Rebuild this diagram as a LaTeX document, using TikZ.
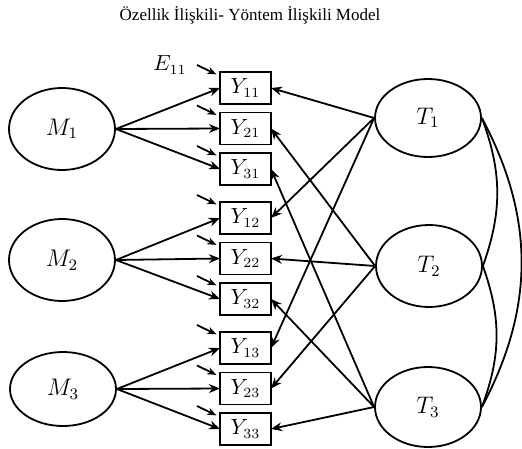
\documentclass[tikz,border=0pt]{standalone}
\usepackage{fontspec}
\setmainfont{Liberation Serif}
\usetikzlibrary{arrows.meta,positioning,shapes.geometric,calc}

\begin{document}
\begin{tikzpicture}[x=0.5pt, y=-0.5pt,
  font=\fontsize{12}{14}\selectfont,
  latent/.style={draw, ellipse, minimum width=53pt, minimum height=41pt,
                 inner sep=0pt, line width=0.9pt},
  obs/.style={draw, rectangle, minimum width=25.5pt, minimum height=16pt, outer sep=0pt,
              inner sep=0pt, line width=0.9pt, font=\fontsize{10.5}{12}\selectfont},
  arr/.style={-{Stealth[length=5.5pt, width=4.4pt]}, line width=0.9pt},
  err/.style={-{Stealth[length=4.6pt, width=3.6pt]}, line width=0.9pt, shorten >=2pt},
  corr/.style={line width=0.9pt}]
\useasboundingbox (0,0) rectangle (522,448);
\node[font=\fontsize{8.5}{10}\selectfont] (title) at (250,15)
  {Özellik İlişkili- Yöntem İlişkili Model};
% method factors (left) and trait factors (right)
\node[latent] (M1) at (62,129) {$M_1$};
\node[latent] (M2) at (62,260) {$M_2$};
\node[latent, minimum height=37pt] (M3) at (63,389) {$M_3$};
\node[latent, minimum height=39pt] (T1) at (428,118) {$T_1$};
\node[latent] (T2) at (429,266) {$T_2$};
\node[latent, minimum height=40pt] (T3) at (428,407) {$T_3$};
% observed measures
\node[obs] (Y11) at (245.5,88) {$Y_{11}$};
\node[obs, below=4.25pt of Y11] (Y21) {$Y_{21}$};
\node[obs, below=4.25pt of Y21] (Y31) {$Y_{31}$};
\node[obs, below=8.5pt of Y31] (Y12) {$Y_{12}$};
\node[obs, below=4.25pt of Y12] (Y22) {$Y_{22}$};
\node[obs, below=4.25pt of Y22] (Y32) {$Y_{32}$};
\node[obs, below=8.5pt of Y32] (Y13) {$Y_{13}$};
\node[obs, below=4.25pt of Y13] (Y23) {$Y_{23}$};
\node[obs, below=4.25pt of Y23] (Y33) {$Y_{33}$};
% error terms
\coordinate (E11) at ($(Y11.north west)+(-23,-7)$); \coordinate (E21) at ($(Y21.north west)+(-23,-7)$);
\coordinate (E31) at ($(Y31.north west)+(-23,-7)$); \coordinate (E12) at ($(Y12.north west)+(-23,-7)$);
\coordinate (E22) at ($(Y22.north west)+(-23,-7)$); \coordinate (E32) at ($(Y32.north west)+(-23,-7)$);
\coordinate (E13) at ($(Y13.north west)+(-23,-7)$); \coordinate (E23) at ($(Y23.north west)+(-23,-7)$);
\coordinate (E33) at ($(Y33.north west)+(-23,-7)$);
\draw[err] (E11)--(Y11.155); \draw[err] (E21)--(Y21.155); \draw[err] (E31)--(Y31.155);
\draw[err] (E12)--(Y12.155); \draw[err] (E22)--(Y22.155); \draw[err] (E32)--(Y32.155);
\draw[err] (E13)--(Y13.155); \draw[err] (E23)--(Y23.155); \draw[err] (E33)--(Y33.155);
\node[left=5pt of E11, inner sep=0pt, font=\fontsize{10.5}{12}\selectfont] (E11lbl) {$E_{11}$};
% method loadings
\draw[arr] (M1.east)--(Y11.west); \draw[arr] (M1.east)--(Y21.west); \draw[arr] (M1.east)--(Y31.west);
\draw[arr] (M2.east)--(Y12.west); \draw[arr] (M2.east)--(Y22.west); \draw[arr] (M2.east)--(Y32.west);
\draw[arr] (M3.east)--(Y13.west); \draw[arr] (M3.east)--(Y23.west); \draw[arr] (M3.east)--(Y33.west);
% trait loadings
\draw[arr] (T1.west)--(Y11.east); \draw[arr] (T1.west)--(Y12.east); \draw[arr] (T1.west)--(Y13.east);
\draw[arr] (T2.west)--(Y21.east); \draw[arr] (T2.west)--(Y22.east); \draw[arr] (T2.west)--(Y23.east);
\draw[arr] (T3.west)--(Y31.east); \draw[arr] (T3.west)--(Y32.east); \draw[arr] (T3.west)--(Y33.east);
% trait correlations
\draw[corr] (T1.east) to[bend left=20] (T2.east);
\draw[corr] (T1.east) to[bend left=28] (T3.east);
\draw[corr] (T2.east) to[bend left=20] (T3.east);
\end{tikzpicture}
\end{document}
